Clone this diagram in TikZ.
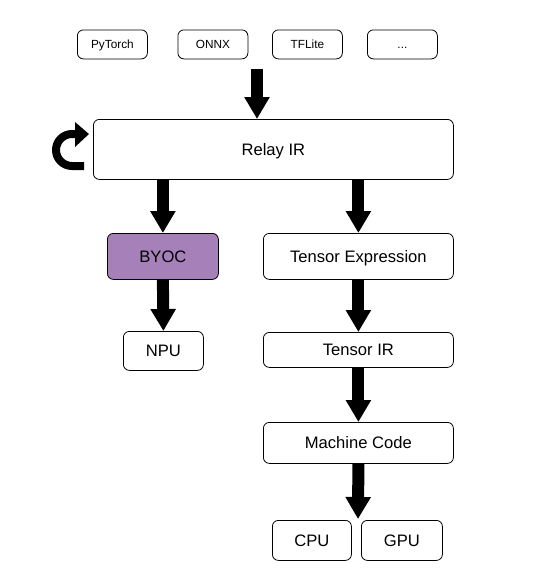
\documentclass[tikz,border=0pt]{standalone}
\usepackage{fontspec}
\setmainfont{Liberation Sans}
\usetikzlibrary{arrows.meta}
\definecolor{byocfill}{HTML}{A680B8}
\begin{document}
\begin{tikzpicture}[x=1pt,y=-1pt,
  box/.style={draw=black,line width=0.8pt,rounded corners=6pt,fill=white,inner sep=0pt,anchor=north west},
  small/.style={font=\fontsize{11.8}{13}\selectfont,text height=8.4pt,text depth=0pt},
  big/.style={font=\fontsize{16.6}{19}\selectfont,text height=11.9pt,text depth=0pt},
  blockarrow/.style={line width=12pt,-{Triangle[width=24pt,length=22pt]}}]
\useasboundingbox (0,0) rectangle (546,581);
% top frameworks
\node[box,small,minimum width=70pt,minimum height=29pt] (pt) at (77,29.5) {PyTorch};
\node[box,small,minimum width=70pt,minimum height=29pt] (onnx) at (177.5,29.5) {ONNX};
\node[box,small,minimum width=70pt,minimum height=29pt] (tfl) at (272,29.5) {TFLite};
\node[box,small,minimum width=70pt,minimum height=29pt] (dots) at (367,29.5) {...};
% relay
\node[box,big,minimum width=360pt,minimum height=60pt] (relay) at (93,119) {Relay IR};
% left side
\node[box,big,fill=byocfill,minimum width=111pt,minimum height=46pt] (byoc) at (107,233) {BYOC};
\node[box,big,minimum width=80pt,minimum height=39pt] (npu) at (123,331) {NPU};
% right side
\node[box,big,minimum width=190pt,minimum height=46pt] (te) at (263,233) {Tensor Expression};
\node[box,big,minimum width=190pt,minimum height=35pt] (tir) at (263,332) {Tensor IR};
\node[box,big,minimum width=190pt,minimum height=41pt] (mc) at (263,422) {Machine Code};
\node[box,big,minimum width=79pt,minimum height=40pt] (cpu) at (272,520) {CPU};
\node[box,big,minimum width=81pt,minimum height=40pt] (gpu) at (361,520) {GPU};
% arrows
\coordinate (intop) at (257,69);
\coordinate (mcout) at (358,519);
\draw[blockarrow] (intop) -- (intop |- relay.north);
\draw[blockarrow] (relay.south -| byoc.north) -- (byoc.north);
\draw[blockarrow] (relay.south -| te.north) -- (te.north);
\draw[blockarrow] (byoc.south) -- (npu.north);
\draw[blockarrow] (te.south) -- (tir.north);
\draw[blockarrow] (tir.south) -- (mc.north);
\draw[blockarrow] (mc.south) -- (mcout);
% loop arrow
\coordinate (loopstart) at (84,166);
\draw[line width=8pt] (loopstart) -- (72,166) arc[start angle=90,end angle=270,radius=16] -- (77,134);
\fill (75,122) -- (89,134) -- (75,147) -- cycle;
\end{tikzpicture}
\end{document}
